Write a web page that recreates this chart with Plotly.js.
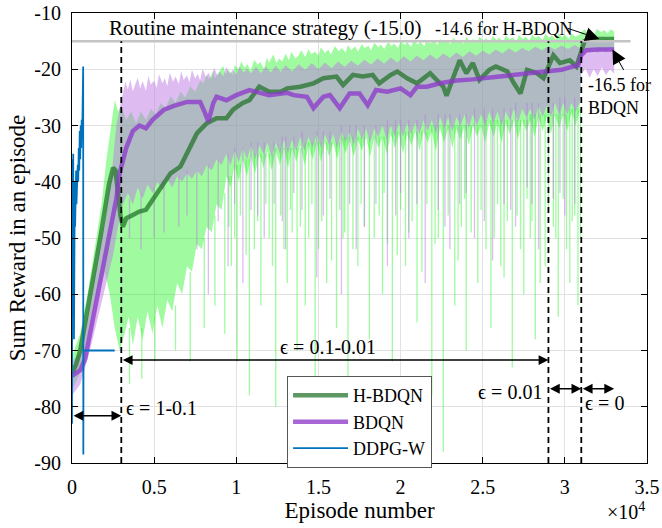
<!DOCTYPE html>
<html>
<head>
<meta charset="utf-8">
<script src="https://cdn.plot.ly/plotly-3.0.1.min.js"></script>
<style>
  html, body { margin: 0; padding: 0; background: #ffffff; }
  #chart { width: 662px; height: 528px; }
</style>
</head>
<body>
<div id="chart"></div>
<script>
// ---- Smoothed sum reward per episode (mean curves) ----
const hbdqnEp = [0, 250, 500, 750, 1000, 1250, 1500, 1750, 2000, 2250, 2500, 2650, 2800, 2950, 3100,
  3300, 3700, 4100, 4500, 4900, 5400, 6000, 6600, 7000, 7600, 8200, 8800, 9400, 9800, 10400,
  10800, 11400, 12000, 12700, 13100, 13900, 14700, 15300, 16100, 16500, 17100, 17700, 18300, 18700, 19400,
  19800, 20400, 21000, 21800, 22600, 22800, 23200, 23600, 24000, 24400, 24800, 25400, 25800, 26500, 26900,
  27300, 27700, 28300, 28700, 29300, 29700, 30300, 30700, 31000, 31200, 31500, 32000, 32500, 33000];
const hbdqnMean = [-74, -72.5, -70, -66, -62.5, -58.5, -54, -49.5, -45, -40.5, -37.5, -38, -42, -46, -48,
  -46.5, -45.9, -45.3, -45, -43.3, -40.9, -38.5, -37.3, -34.9, -31.4, -29.6, -28.7, -28.7, -27.2, -26,
  -25.5, -23.1, -24, -24, -23.4, -23.1, -22.5, -21.6, -21.3, -22.8, -21, -21.3, -21, -22.5, -21,
  -20.4, -21.6, -22.5, -20.7, -23.1, -24.7, -21.5, -18.4, -20.7, -18.9, -21.9, -20.1, -19.5, -20.4, -22.5,
  -24.3, -20.1, -20.7, -21.6, -17.5, -18.9, -18.4, -19.5, -17, -15, -14.6, -14.6, -14.6, -14.6];

const bdqnEp = [0, 500, 800, 1100, 1500, 1900, 2300, 2700, 2900, 3300, 3700, 4100, 4500, 4900, 5600,
  6200, 7000, 7800, 8100, 8300, 8600, 8800, 9400, 10000, 10800, 11400, 12000, 13100, 13500, 14300,
  14700, 15300, 15700, 16300, 16900, 17500, 18000, 18500, 19200, 20000, 20600, 21000, 21600, 22400, 23400,
  24400, 25400, 26500, 27500, 28500, 29100, 29800, 30500, 30800, 31000, 31300, 32000, 33000];
const bdqnMean = [-74.5, -73.5, -71.5, -67, -61, -55, -49, -43, -38.5, -34, -31, -30, -30.5, -29, -27.2,
  -26.5, -25.8, -25.8, -27.8, -29.3, -26, -24.9, -25.5, -24.6, -23.7, -24.2, -24.6, -24.2, -24.6, -24.9,
  -26.9, -24.9, -24.6, -26.9, -24.3, -24.3, -26.4, -23.7, -24, -23.4, -24.6, -23.1, -23.1, -22.5, -22,
  -21.8, -21.5, -21.2, -20.9, -20.6, -20.5, -20.1, -19.5, -19.3, -17.5, -16.6, -16.5, -16.5];

// ---- DDPG-W raw rewards (short run) ----
const ddpgEp = [0, 15, 30, 45, 60, 75, 90, 105, 120, 135, 150, 170, 190, 210, 230, 250, 270, 290,
  320, 350, 380, 410, 440, 470, 500, 530, 560, 590, 620, 650, 680, 690, 700, 2600];
const ddpgReward = [-83, -36, -72, -38, -58, -35, -64, -41, -68, -45, -52, -40, -48, -42, -46, -38, -44, -40,
  -42, -37, -40, -34, -38, -31, -36, -30, -34, -29, -32, -28, -19.5, -88.5, -70, -70];

// ---- Reward envelopes over runs: [episode, reward] ----
const hbdqnMax = [[0,-71],[500,-67],[1000,-59],[1500,-50],[1800,-44],[2100,-36],[2400,-30],[2600,-25.5],
  [2800,-27.5],[3000,-26.5],[3300,-29],[3600,-27.5],[3900,-29.5],[4200,-27.5],[4500,-29],[4800,-27],[5100,-28],
  [5400,-26],[5700,-27],[6000,-24.8],[6300,-26],[6600,-24],[6900,-25],[7200,-23],[7500,-24],[7800,-22],
  [8000,-22.5],[8200,-21],[8350,-21.8],[8600,-20.2],[8700,-21.6],[8950,-20.5],[9200,-19.4],[9350,-20.9],
  [9500,-20.1],[9800,-21],[9900,-19.3],[10150,-20],[10300,-18.6],[10500,-19.7],[10700,-19.1],[10850,-20.3],
  [11100,-18.3],[11300,-19.2],[11450,-18.7],[11700,-19.9],[11850,-17.9],[12000,-18.8],[12250,-17.4],[12450,-18.9],
  [12600,-18.1],[12800,-18.6],[13000,-17.2],[13200,-18.4],[13350,-16.9],[13600,-18.1],[13800,-17.5],[13950,-16.6],
  [14200,-17.8],[14400,-16.4],[14550,-17.3],[14800,-16.9],[15000,-17.6],[15150,-16.1],[15400,-17.1],[15600,-16.5],
  [15750,-17.4],[16000,-15.9],[16250,-16.8],[16400,-16.2],[16650,-17],[16800,-15.7],[17000,-16.6],[17250,-15.9],
  [17400,-16.9],[17650,-15.5],[17800,-16.2],[18050,-15.8],[18200,-16.7],[18400,-15.3],[18650,-16.1],[18800,-15.6],
  [19000,-16.4],[19250,-15.1],[19450,-15.9],[19600,-15.4],[19850,-16.2],[20000,-15],[20250,-15.7],[20400,-15.2],
  [20650,-16],[20800,-14.9],[21050,-15.6],[21200,-15.1],[21450,-15.9],[21600,-14.7],[21800,-15.4],[22050,-14.9],
  [22250,-15.7],[22400,-14.6],[22650,-15.2],[22800,-14.8],[23050,-15.5],[23200,-14.4],[23450,-15.1],[23600,-14.7],
  [23850,-15.4],[24000,-14.3],[24250,-15],[24400,-14.6],[24650,-15.3],[24800,-14.2],[25050,-14.9],[25200,-14.5],
  [25450,-15.2],[25600,-14.1],[25850,-14.8],[26000,-14.4],[26250,-15.1],[26400,-14],[26650,-14.7],[26800,-14.3],
  [27050,-15],[27200,-13.9],[27450,-14.6],[27600,-14.2],[27850,-14.9],[28000,-13.8],[28250,-14.5],[28400,-14.1],
  [28650,-14.8],[28800,-13.7],[29050,-14.4],[29200,-14],[29450,-14.7],[29600,-13.6],[29850,-14.3],[30000,-13.9],
  [30250,-14.6],[30400,-13.6],[30650,-14.2],[30850,-13.9],[31000,-13.5],[31200,-12.9],[31400,-13.6],[31550,-13.1],
  [31800,-13.7],[31950,-12.8],[32200,-13.4],[32400,-13],[32600,-13.6],[32800,-12.9],[33000,-13.3]];
const hbdqnMin = [[0,-77],[500,-74],[1000,-67],[1500,-60],[2000,-56],[2300,-60],[2600,-66],[2900,-70],
  [3200,-67],[3450,-64],[3700,-69],[4000,-64],[4300,-68],[4600,-63],[4900,-67],[5200,-62],[5500,-66],[5800,-61],
  [6100,-63],[6400,-58],[6700,-60],[7000,-55],[7300,-56],[7600,-51],[7900,-52],[8200,-48],[8500,-49],[8800,-44],
  [9100,-45],[9400,-39],[9650,-41],[9900,-37],[10150,-40],[10400,-36],[10650,-39],[10900,-35.5],[11150,-38.5],
  [11400,-35],[11650,-37.5],[11900,-34.5],[12150,-38],[12400,-34.5],[12650,-37],[12900,-34],[13150,-37.5],
  [13400,-34],[13650,-36.5],[13900,-33.5],[14150,-37],[14400,-33.5],[14650,-36],[14900,-33],[15150,-36.5],
  [15400,-33],[15650,-35.5],[15900,-33],[16150,-36],[16400,-32.5],[16650,-35],[16900,-32.5],[17150,-35.5],
  [17400,-32.5],[17650,-34.5],[17900,-32],[18150,-35.5],[18400,-32],[18650,-34],[18900,-32],[19150,-35],
  [19400,-31.5],[19650,-34],[19900,-31.5],[20150,-35],[20400,-31.5],[20650,-33.5],[20900,-31],[21150,-34.5],
  [21400,-31],[21650,-33],[21900,-31],[22150,-34.5],[22400,-30.5],[22650,-33],[22900,-30.5],[23150,-34],
  [23400,-30.5],[23650,-32.5],[23900,-30],[24150,-33.5],[24400,-30],[24650,-32],[24900,-30],[25150,-33],
  [25400,-29.5],[25650,-32],[25900,-29.5],[26150,-33],[26400,-29.5],[26650,-31.5],[26900,-29],[27150,-32.5],
  [27400,-29],[27650,-31],[27900,-29],[28150,-32],[28400,-28.5],[28650,-31],[28900,-28.5],[29150,-31.5],
  [29400,-28],[29650,-30.5],[29900,-28],[30150,-31],[30400,-27.5],[30650,-30],[30900,-27.5],[31000,-17],
  [31250,-16.2],[31500,-17],[31750,-16.3],[32000,-17.2],[32250,-16.4],[32500,-17],[32750,-16.3],[33000,-16.8]];
// isolated bad episodes: [episode, band edge, worst reward]
const hbdqnDips = [[3500,-66,-76],[4250,-66,-75],[5050,-64,-72],[6300,-62,-70],[7200,-56,-72],[8050,-50,-66],
  [8700,-46,-62],[9300,-42,-67],[9550,-39,-48],[9700,-39,-55],[9900,-37,-50],[10050,-37,-72],[10250,-37,-46],
  [10600,-36,-53],[10800,-36,-78],[11100,-35,-52],[11300,-35,-47],[11500,-35,-62],[11800,-35,-44],[12000,-35,-50],
  [12200,-35,-55],[12400,-34,-80],[12700,-34,-46],[12900,-34,-52],[13100,-34,-58],[13300,-34,-45],[13400,-34,-49],
  [13700,-34,-70],[13900,-34,-48],[14200,-33,-62],[14400,-33,-50],[14600,-33,-44],[14800,-33,-85],[15000,-33,-52],
  [15200,-33,-47],[15500,-33,-58],[15800,-33,-54],[16100,-33,-66],[16300,-33,-45],[16500,-32,-50],[16600,-32,-49],
  [16800,-32,-75],[17100,-32,-52],[17400,-32,-55],[17600,-32,-44],[17800,-32,-48],[18100,-32,-68],[18400,-32,-50],
  [18700,-32,-46],[18900,-32,-60],[19000,-32,-42],[19200,-31,-51],[19500,-31,-72],[19800,-31,-53],[20000,-31,-45],
  [20300,-31,-55],[20500,-31,-49],[20700,-31,-47],[21000,-31,-65],[21300,-31,-56],[21600,-31,-44],[21900,-30,-78],
  [22100,-30,-51],[22300,-30,-50],[22600,-30,-88],[22900,-30,-46],[23300,-30,-62],[23500,-30,-54],[23700,-30,-48],
  [23900,-30,-43],[24000,-30,-70],[24300,-30,-49],[24700,-30,-58],[24900,-30,-45],[25200,-29,-52],[25500,-29,-66],
  [25700,-29,-50],[25900,-29,-44],[26100,-29,-55],[26300,-29,-57],[26500,-29,-47],[26800,-29,-73],[27100,-29,-46],
  [27300,-29,-52],[27500,-29,-60],[27700,-29,-43],[27900,-28,-50],[28000,-28,-47],[28200,-28,-68],[28500,-28,-58],
  [28800,-28,-55],[29000,-28,-45],[29300,-28,-48],[29450,-28,-50],[29600,-28,-64],[29900,-28,-43],[30100,-28,-52],
  [30300,-27,-58],[30450,-27,-47],[30600,-27,-46],[30800,-27,-62],[30950,-27,-50]];

const bdqnMax = [[0,-72],[500,-70.5],[1000,-63],[1500,-55],[2000,-47],[2400,-39],[2700,-30],[2900,-27],
  [3100,-24.5],[3250,-22.2],[3400,-23.6],[3550,-21.8],[3700,-23.9],[3850,-22.6],[4000,-21.5],[4150,-23.4],
  [4300,-22.1],[4500,-23.8],[4650,-21.2],[4800,-22.7],[5000,-22],[5150,-23.3],[5300,-20.9],[5500,-22.5],
  [5650,-21.6],[5800,-23],[5950,-20.6],[6150,-22.2],[6300,-21.3],[6500,-22.6],[6650,-20.3],[6800,-21.9],
  [7000,-21.1],[7150,-22.3],[7300,-20.1],[7500,-21.7],[7650,-20.8],[7800,-22],[7950,-19.9],[8150,-21.4],
  [8300,-20.6],[8500,-21.7],[8650,-19.7],[8850,-21.1],[9000,-20.4],[9200,-21.3],[9400,-19.6],[9600,-20.8],
  [9800,-20.1],[10000,-21],[10200,-19.5],[10450,-20.6],[10650,-19.9],[10900,-20.7],[11200,-19.6],[11500,-20.7],
  [11800,-19.5],[12100,-20.6],[12400,-19.4],[12700,-20.5],[13000,-19.3],[13400,-20.4],[13800,-19.1],[14200,-20.1],
  [14600,-18.9],[15000,-20],[15400,-18.8],[15800,-19.8],[16200,-18.6],[16600,-19.6],[17000,-18.5],[17400,-19.4],
  [17800,-18.3],[18200,-19.2],[18600,-18.1],[19000,-19],[19400,-17.9],[19800,-18.8],[20200,-17.7],[20600,-18.6],
  [21000,-17.6],[21400,-18.4],[21800,-17.4],[22200,-18.2],[22600,-17.2],[23000,-18],[23400,-17],[23800,-17.8],
  [24200,-16.8],[24600,-17.6],[25000,-16.7],[25400,-17.4],[25800,-16.5],[26200,-17.2],[26600,-16.3],[27000,-17],
  [27400,-16.2],[27800,-16.8],[28200,-16],[28600,-16.6],[29000,-15.9],[29400,-16.5],[29800,-15.8],[30200,-16.4],
  [30600,-15.7],[30900,-16.2],[31000,-14.8],[31300,-14.5],[31600,-15],[31900,-14.6],[32200,-15],[32500,-14.6],
  [32800,-15],[33000,-14.8]];
const bdqnMin = [[0,-78],[500,-76],[1000,-71],[1500,-65],[2000,-59],[2500,-53],[2800,-48],[3100,-44],[3400,-42],
  [3700,-44],[4000,-41],[4300,-43],[4600,-40.5],[4900,-42],[5200,-40],[5500,-41.5],[5800,-39.5],[6100,-41],[6400,-39],
  [6700,-40],[7000,-38.5],[7300,-39.5],[7600,-38],[7900,-39],[8200,-37],[8500,-38],[8800,-36],[9100,-37],[9400,-35],
  [9650,-37],[9900,-34.5],[10150,-36.5],[10400,-34],[10650,-36],[10900,-33.5],[11150,-36],[11400,-33.5],[11650,-35],
  [11900,-33],[12150,-35.5],[12400,-33],[12650,-35],[12900,-32.5],[13150,-35],[13400,-32.5],[13650,-34.5],[13900,-32],
  [14150,-34.5],[14400,-32],[14650,-34],[14900,-31.5],[15150,-34],[15400,-31.5],[15650,-33.5],[15900,-31.5],
  [16150,-34],[16400,-31],[16650,-33],[16900,-31],[17150,-33.5],[17400,-30.5],[17650,-32.5],[17900,-30.5],
  [18150,-33],[18400,-30.5],[18650,-32],[18900,-30],[19150,-32.5],[19400,-30],[19650,-32],[19900,-29.5],
  [20150,-32],[20400,-29.5],[20650,-31.5],[20900,-29.5],[21150,-31.5],[21400,-29],[21650,-31],[21900,-29],
  [22150,-31.5],[22400,-28.5],[22650,-30.5],[22900,-28.5],[23150,-31],[23400,-28.5],[23650,-30],[23900,-28],
  [24150,-30.5],[24400,-28],[24650,-30],[24900,-28],[25150,-30],[25400,-27.5],[25650,-29.5],[25900,-27.5],
  [26150,-30],[26400,-27.5],[26650,-29],[26900,-27],[27150,-29.5],[27400,-27],[27650,-28.5],[27900,-27],
  [28150,-29],[28400,-26.5],[28650,-28.5],[28900,-26.5],[29150,-28.5],[29400,-26],[29650,-28],[29900,-26],
  [30150,-28],[30400,-26],[30650,-27.5],[30900,-26],[31000,-21],[31250,-19.8],[31500,-21.5],
  [31750,-20],[32000,-21.2],[32250,-19.7],[32500,-21],[32750,-20],[33000,-20.8]];
const bdqnDips = [[3500,-43,-50],[4200,-42,-52],[5000,-41,-50],[5600,-40,-49],[6500,-39,-48],[7000,-38,-46],
  [7600,-38,-52],[8300,-37,-60],[8900,-36,-47],[9500,-35,-55],[9900,-34,-44],[10400,-34,-58],[10900,-33,-45],
  [11300,-33,-46],[11700,-33,-50],[12300,-33,-44],[12800,-32,-47],[13000,-32,-52],[13500,-32,-42],[14000,-31,-45],
  [14900,-31,-57],[15300,-31,-46],[15700,-31,-43],[16400,-30,-60],[16900,-30,-44],[17300,-30,-52],[17800,-30,-48],
  [18500,-30,-44],[19200,-29,-55],[19700,-29,-46],[20000,-29,-42],[20500,-29,-50],[21000,-29,-44],[21500,-28,-58],
  [22300,-28,-45],[22700,-28,-48],[23000,-28,-52],[23600,-28,-44],[24000,-28,-42],[24500,-27,-50],[25100,-27,-47],
  [25600,-27,-54],[26300,-27,-44],[26700,-27,-45],[27000,-26,-48],[27700,-26,-41],[28000,-26,-44],[28400,-26,-52],
  [29300,-26,-43],[29700,-25,-42],[30000,-25,-46],[30600,-25,-44]];

// ---- Reference levels and exploration schedule ----
const routineLevel = -15.0;
const routineEnd = 34000;
const phaseBounds = [3000, 29000, 31000];
const greedyEnd = 33000;
const phaseLabels = ['ϵ = 1-0.1', 'ϵ = 0.1-0.01', 'ϵ = 0.01', 'ϵ = 0'];

// ---- Axis ticks ----
const xTickVals = [0, 5000, 10000, 15000, 20000, 25000, 30000, 35000];
const xTickText = ['0', '0.5', '1', '1.5', '2', '2.5', '3', '3.5'];
const yTickVals = [-90, -80, -70, -60, -50, -40, -30, -20, -10];
const yTickText = ['-90', '-80', '-70', '-60', '-50', '-40', '-30', '-20', '-10'];

// closed polygon between a max envelope and a min envelope
function envelope(upper, lower) {
  const back = lower.slice().reverse();
  return {
    x: upper.map(p => p[0]).concat(back.map(p => p[0])),
    y: upper.map(p => p[1]).concat(back.map(p => p[1]))
  };
}
// vertical strokes for single bad episodes
function dipStrokes(dips) {
  const x = [], y = [];
  dips.forEach(d => { x.push(d[0], d[0], null); y.push(d[1], d[2], null); });
  return { x: x, y: y };
}
const hBand = envelope(hbdqnMax, hbdqnMin);
const bBand = envelope(bdqnMax, bdqnMin);
const hDip = dipStrokes(hbdqnDips);
const bDip = dipStrokes(bdqnDips);

const FONT = 'Liberation Serif, Times New Roman, serif';
const GREEN_FILL = 'rgba(5,242,5,0.38)';
const PURPLE_FILL = 'rgba(189,121,229,0.5)';

const traces = [
  { x: hBand.x, y: hBand.y, mode: 'lines', fill: 'toself', fillcolor: GREEN_FILL,
    line: { width: 0, color: 'rgba(0,0,0,0)' }, showlegend: false, hoverinfo: 'skip' },
  { x: hDip.x, y: hDip.y, mode: 'lines', line: { color: GREEN_FILL, width: 1.3 },
    showlegend: false, hoverinfo: 'skip', connectgaps: false },
  { x: bBand.x, y: bBand.y, mode: 'lines', fill: 'toself', fillcolor: PURPLE_FILL,
    line: { width: 0, color: 'rgba(0,0,0,0)' }, showlegend: false, hoverinfo: 'skip' },
  { x: bDip.x, y: bDip.y, mode: 'lines', line: { color: PURPLE_FILL, width: 1.3 },
    showlegend: false, hoverinfo: 'skip', connectgaps: false },
  { name: 'H-BDQN', x: hbdqnEp, y: hbdqnMean, mode: 'lines',
    line: { color: 'rgba(30,112,38,0.72)', width: 4.5 }, hoverinfo: 'skip' },
  { name: 'BDQN', x: bdqnEp, y: bdqnMean, mode: 'lines',
    line: { color: 'rgba(142,58,202,0.78)', width: 4.5 }, hoverinfo: 'skip' },
  { name: 'DDPG-W', x: ddpgEp, y: ddpgReward, mode: 'lines',
    line: { color: '#0072bd', width: 1.8 }, hoverinfo: 'skip' }
];

const hFinal = hbdqnMean[hbdqnMean.length - 1];
const bFinal = bdqnMean[bdqnMean.length - 1];

const shapes = [
  { type: 'line', xref: 'x', yref: 'y', x0: 0, x1: routineEnd, y0: routineLevel, y1: routineLevel,
    line: { color: '#c4c4c4', width: 2.5 }, layer: 'above' }
].concat(phaseBounds.map(b => ({
  type: 'line', xref: 'x', yref: 'y', x0: b, x1: b, y0: -90, y1: routineLevel,
  line: { color: '#000', width: 1.8, dash: '6px,4px' }, layer: 'above'
})));

function span(x0, x1, y) {
  return { x: x1, y: y, ax: x0, ay: y, axref: 'x', ayref: 'y', xref: 'x', yref: 'y', text: '',
    showarrow: true, arrowside: 'end+start', arrowhead: 2, startarrowhead: 2,
    arrowsize: 1.4, startarrowsize: 1.4, arrowwidth: 1.4, arrowcolor: '#000',
    standoff: 0, startstandoff: 0 };
}
function label(text, x, y, xanchor, size) {
  return { text: text, x: x, y: y, xref: 'x', yref: 'y', xanchor: xanchor, yanchor: 'middle',
    showarrow: false, align: 'left', font: { family: FONT, size: size, color: '#000' } };
}

const annotations = [
  label('Routine maintenance strategy (' + routineLevel.toFixed(1) + ')', 2100, -12.7, 'left', 21),
  label(hFinal.toFixed(1) + ' for H-BDQN', 21950, -12.9, 'left', 18),
  label(bFinal.toFixed(1) + ' for<br>BDQN', 31300, -24.9, 'left', 18),
  { x: 32100, y: hFinal, xref: 'x', yref: 'y', ax: -33, ay: -11, text: '', showarrow: true,
    arrowhead: 2, arrowsize: 2.8, arrowwidth: 1, arrowcolor: '#000', standoff: 0 },
  { x: 32900, y: bFinal, xref: 'x', yref: 'y', ax: 12, ay: 22, text: '', showarrow: true,
    arrowhead: 2, arrowsize: 2.8, arrowwidth: 1, arrowcolor: '#000', standoff: 0 },
  span(0, phaseBounds[0], -81.6),
  span(phaseBounds[0], phaseBounds[1], -71.7),
  span(phaseBounds[1], phaseBounds[2], -76.8),
  span(phaseBounds[2], greedyEnd, -76.8),
  label(phaseLabels[0], 3150, -80.2, 'left', 20),
  label(phaseLabels[1], 15600, -69.4, 'center', 20),
  label(phaseLabels[2], 28750, -77.3, 'right', 20),
  label(phaseLabels[3], 31100, -79.3, 'left', 20),
  { text: '×10<sup>4</sup>', xref: 'paper', yref: 'paper', x: 1.0, y: -0.137, xanchor: 'right', yanchor: 'bottom',
    showarrow: false, font: { family: FONT, size: 20, color: '#000' } }
];

const layout = {
  width: 662, height: 528,
  margin: { l: 72, r: 15, t: 13, b: 65 },
  paper_bgcolor: '#ffffff', plot_bgcolor: '#ffffff',
  font: { family: FONT, size: 20, color: '#000' },
  showlegend: true,
  legend: { x: 0.374, y: 0.193, xanchor: 'left', yanchor: 'top', bgcolor: '#ffffff',
    bordercolor: '#555', borderwidth: 1, font: { family: FONT, size: 18, color: '#000' },
    tracegroupgap: 0, itemwidth: 55 },
  xaxis: {
    range: [0, 35000], tickvals: xTickVals, ticktext: xTickText,
    ticks: 'inside', ticklen: 6, tickcolor: '#000', tickwidth: 1,
    showline: true, linecolor: '#000', linewidth: 1, mirror: 'ticks',
    showgrid: true, gridcolor: '#e2e2e2', gridwidth: 1, zeroline: false,
    tickfont: { family: FONT, size: 20 }, automargin: false, ticklabelstandoff: 6,
    title: { text: 'Episode number', font: { family: FONT, size: 23 }, standoff: 4 }
  },
  yaxis: {
    range: [-90, -10], tickvals: yTickVals, ticktext: yTickText,
    ticks: 'inside', ticklen: 6, tickcolor: '#000', tickwidth: 1,
    showline: true, linecolor: '#000', linewidth: 1, mirror: 'ticks',
    showgrid: true, gridcolor: '#e2e2e2', gridwidth: 1, zeroline: false,
    tickfont: { family: FONT, size: 20 }, automargin: false, ticklabelstandoff: 6,
    title: { text: 'Sum Reward in an episode', font: { family: FONT, size: 23 }, standoff: 2 }
  },
  shapes: shapes,
  annotations: annotations
};

Plotly.newPlot('chart', traces, layout, { staticPlot: true, displayModeBar: false });
</script>
</body>
</html>
